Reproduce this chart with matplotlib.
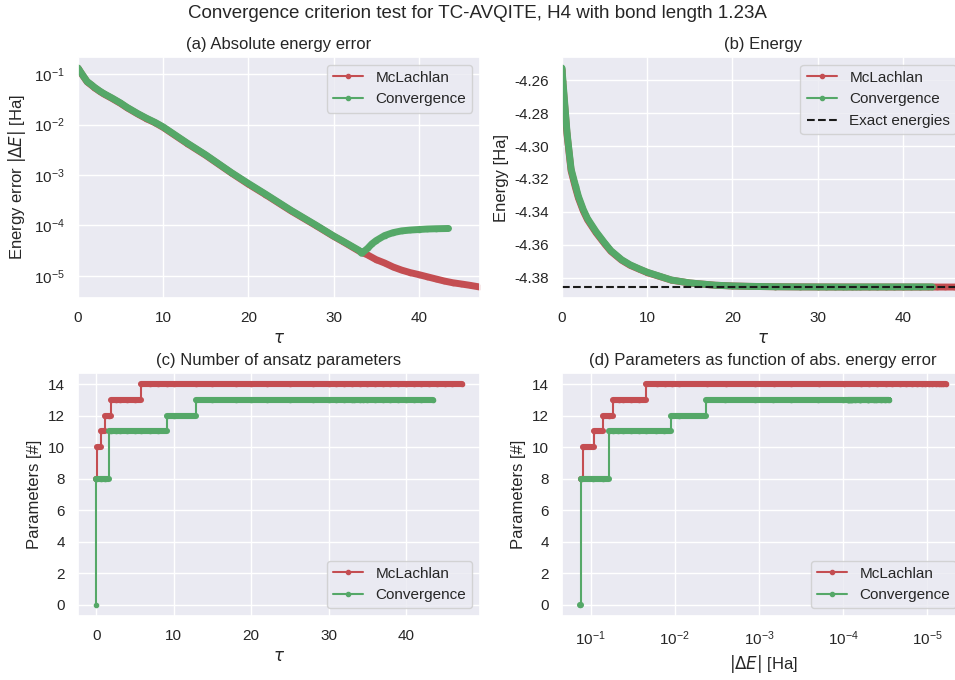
import numpy as np
import matplotlib
matplotlib.use("Agg")
import matplotlib.pyplot as plt
from matplotlib.ticker import MultipleLocator, FormatStrFormatter
import seaborn as sns

# ---- McLachlan run -------------------------------------------------------
tau_mcl = [0, 0.08, 0.6, 1.07, 1.6, 1.93, 2.5, 3, 4, 5, 5.74, 7, 8, 9.08, 10,
           12.85, 15, 18, 20, 22, 25, 28, 30, 31, 32, 33, 34, 35, 36, 37, 38,
           39, 40, 41, 42, 43, 44, 45, 46, 47.2]
err_mcl = [0.132, 0.125, 0.0920, 0.0705, 0.0600, 0.0540, 0.0462, 0.0408,
           0.0330, 0.0263, 0.0217, 0.0163, 0.0132, 0.0108, 0.0088, 0.00418,
           0.00246, 0.00110, 6.6e-4, 4.1e-4, 1.95e-4, 9.8e-5, 6.1e-5, 4.9e-5,
           3.9e-5, 3.1e-5, 2.6e-5, 2.1e-5, 1.8e-5, 1.5e-5, 1.3e-5, 1.16e-5,
           1.06e-5, 9.6e-6, 8.7e-6, 7.9e-6, 7.3e-6, 6.9e-6, 6.5e-6, 6.0e-6]
npar_mcl = [8, 10, 11, 12, 12, 13, 13, 13, 13, 13, 14, 14, 14, 14, 14,
            14, 14, 14, 14, 14, 14, 14, 14, 14, 14, 14, 14, 14, 14, 14, 14,
            14, 14, 14, 14, 14, 14, 14, 14, 14]

# ---- Convergence-criterion run ---------------------------------------------
tau_conv = [0, 0.02, 0.6, 1.07, 1.6, 1.93, 2.5, 3, 4, 5, 5.74, 7, 8, 9.08,
            10, 12.85, 15, 18, 20, 22, 25, 28, 30, 31, 32, 33, 33.3, 34, 34.5,
            35, 36, 37, 38, 39, 40, 41, 42, 43.5]
err_conv = [0.133, 0.131, 0.0933, 0.0716, 0.0612, 0.0550, 0.0470, 0.0415,
            0.0336, 0.0268, 0.0221, 0.0166, 0.0135, 0.0110, 0.0090, 0.00427,
            0.00251, 0.00112, 6.8e-4, 4.2e-4, 2.0e-4, 1.0e-4, 6.2e-5, 5.0e-5,
            4.0e-5, 3.2e-5, 2.8e-5, 3.5e-5, 4.3e-5, 5.0e-5, 6.3e-5, 7.2e-5,
            7.8e-5, 8.1e-5, 8.3e-5, 8.5e-5, 8.6e-5, 8.7e-5]
npar_conv = [0, 8, 8, 8, 11, 11, 11, 11, 11, 11, 11, 11, 11, 12, 12, 13, 13,
             13, 13, 13, 13, 13, 13, 13, 13, 13, 13, 13, 13, 13, 13, 13, 13,
             13, 13, 13, 13, 13]

# Exact ground-state energy [Ha]
E_exact = -4.3856

labels = ["McLachlan", "Convergence"]

sns.set_theme(style="darkgrid", color_codes=True)
plt.rcParams["font.family"] = ["Liberation Sans", "DejaVu Sans"]

RED = "r"
GREEN = "g"
BAND = 5.0   # width of the dense point band
THIN = 1.5

fig = plt.figure(figsize=(9.55, 6.8), dpi=100)
W, H = 955, 680


def px_axes(x0, y0, x1, y1):
    return fig.add_axes([x0 / W, 1 - y1 / H, (x1 - x0) / W, (y1 - y0) / H])


ax_a = px_axes(78, 57, 480, 298)
ax_b = px_axes(562, 57, 964, 298)
ax_c = px_axes(78, 373, 480, 616)
ax_d = px_axes(562, 373, 964, 616)


def band_line(ax, x, y, color, label):
    ax.plot(x, y, color=color, lw=BAND, solid_capstyle="round",
            solid_joinstyle="round")
    ax.plot(x, y, color=color, lw=THIN, marker=".", ms=6, label=label)


def step_line(ax, x, n, color, label):
    x = np.asarray(x, dtype=float)
    n = np.asarray(n)
    starts = np.flatnonzero(np.r_[True, n[1:] != n[:-1]])
    for k, s in enumerate(starts):
        e = starts[k + 1] if k + 1 < len(starts) else len(n) - 1
        xs = x[s:e + 1]
        ax.plot(xs, np.full(len(xs), n[s]), color=color, lw=BAND - 0.6,
                solid_capstyle="round")
    ax.plot(x, n, color=color, lw=THIN, marker=".", ms=6,
            drawstyle="steps-post", label=label)


# (a) absolute energy error
band_line(ax_a, tau_mcl, err_mcl, RED, labels[0])
band_line(ax_a, tau_conv, err_conv, GREEN, labels[1])
ax_a.set_yscale("log")
ax_a.set_xlim(0, tau_mcl[-1])
ax_a.set_title("(a) Absolute energy error")
ax_a.set_xlabel(r"$\tau$")
ax_a.set_ylabel(r"Energy error $|\Delta E|$ [Ha]")
ax_a.legend(loc="upper right")

# (b) energy
E_mcl = E_exact + np.asarray(err_mcl)
E_conv = E_exact + np.asarray(err_conv)
band_line(ax_b, tau_mcl, E_mcl, RED, labels[0])
band_line(ax_b, tau_conv, E_conv, GREEN, labels[1])
ax_b.axhline(E_exact, color="k", ls="--", lw=THIN, label="Exact energies")
ax_b.set_xlim(0, tau_mcl[-1])
ax_b.yaxis.set_major_locator(MultipleLocator(0.02))
ax_b.yaxis.set_major_formatter(FormatStrFormatter("%.2f"))
ax_b.set_title("(b) Energy")
ax_b.set_xlabel(r"$\tau$")
ax_b.set_ylabel("Energy [Ha]")
ax_b.legend(loc="upper right")

# (c) number of ansatz parameters
step_line(ax_c, tau_mcl, npar_mcl, RED, labels[0])
step_line(ax_c, tau_conv, npar_conv, GREEN, labels[1])
ax_c.set_title("(c) Number of ansatz parameters")
ax_c.set_xlabel(r"$\tau$")
ax_c.set_ylabel("Parameters [#]")
ax_c.set_yticks(range(0, 15, 2))
ax_c.legend(loc="lower right")

# (d) parameters against absolute energy error
step_line(ax_d, err_mcl, npar_mcl, RED, labels[0])
step_line(ax_d, err_conv, npar_conv, GREEN, labels[1])
ax_d.set_xscale("log")
ax_d.invert_xaxis()
ax_d.set_title("(d) Parameters as function of abs. energy error")
ax_d.set_xlabel(r"$|\Delta E|$ [Ha]")
ax_d.set_ylabel("Parameters [#]")
ax_d.set_yticks(range(0, 15, 2))
ax_d.legend(loc="lower right")

fig.suptitle("Convergence criterion test for TC-AVQITE, H4 with bond length 1.23A",
             x=0.5, y=0.993, fontsize=13.5)

fig.savefig("out.png", dpi=100)
